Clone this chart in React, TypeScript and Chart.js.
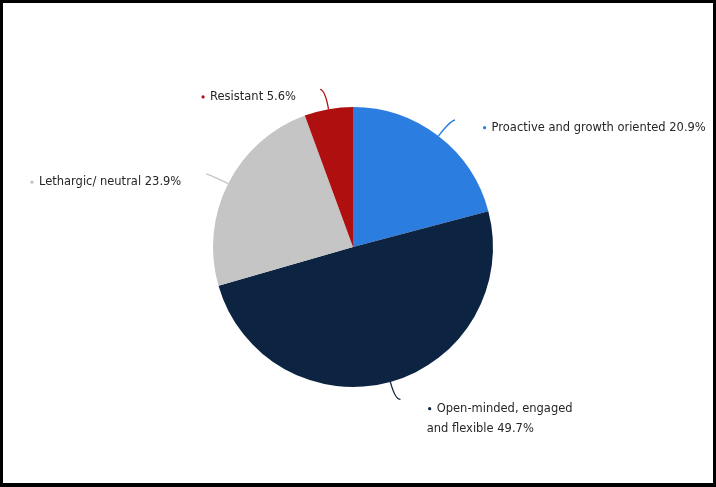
import React, { useEffect, useRef } from 'react';
import { Chart, registerables, ChartConfiguration, Plugin } from 'chart.js';

Chart.register(...registerables);

const categories = ['Proactive and growth oriented', 'Open-minded, engaged and flexible', 'Lethargic/ neutral', 'Resistant'];
const shares = [20.9, 49.7, 23.9, 5.6];
const sliceColors = ['#2b7ddf', '#0c2441', '#c5c5c5', '#b00f10'];
// where Highcharts broke the long labels
const labelLines: Record<string, string[]> = {
  'Open-minded, engaged and flexible': ['Open-minded, engaged', 'and flexible'],
};

const FONT = '11.5px "DejaVu Sans", sans-serif';

const leaderLabels: Plugin<'pie'> = {
  id: 'leaderLabels',
  afterDraw(chart) {
    const ctx = chart.ctx;
    const meta = chart.getDatasetMeta(0);
    ctx.save();
    ctx.font = FONT;
    ctx.textBaseline = 'middle';
    meta.data.forEach((el, i) => {
      const { x, y, startAngle, endAngle, outerRadius } = el.getProps(
        ['x', 'y', 'startAngle', 'endAngle', 'outerRadius'], true) as any;
      const mid = (startAngle + endAngle) / 2;
      const dx = Math.cos(mid);
      const dy = Math.sin(mid);
      const right = dx >= 0;
      const sign = right ? 1 : -1;
      const sx = x + outerRadius * dx;
      const sy = y + outerRadius * dy;
      const cx = x + (outerRadius + 19) * dx;
      const cy = y + (outerRadius + 19) * dy;
      const ex = x + (outerRadius + 20) * dx;
      const ey = y + (outerRadius + 20) * dy;

      // connector
      ctx.strokeStyle = sliceColors[i];
      ctx.lineWidth = 1.3;
      ctx.beginPath();
      ctx.moveTo(sx, sy);
      ctx.quadraticCurveTo(cx, cy, cx + sign * 5, cy - 1);
      ctx.stroke();

      const lines = (labelLines[categories[i]] || [categories[i]]).slice();
      lines[lines.length - 1] = lines[lines.length - 1] + ' ' + shares[i].toFixed(1) + '%';
      const ly = ey + 7.5;

      let textX: number;
      if (right) {
        textX = ex + 41;
      } else {
        textX = ex - 29 - ctx.measureText(lines[0]).width;
      }
      // bullet
      ctx.fillStyle = sliceColors[i];
      ctx.beginPath();
      ctx.arc(textX - 7, ly, 1.6, 0, Math.PI * 2);
      ctx.fill();

      ctx.fillStyle = '#262626';
      ctx.textAlign = 'left';
      lines.forEach((line, k) => {
        const lx = k === 0 ? textX : (right ? ex + 31 : textX);
        ctx.fillText(line, lx, ly + k * 20);
      });
    });
    ctx.restore();
  },
};

const App = () => {
  const chartRef = useRef<HTMLCanvasElement | null>(null);
  const chartInstance = useRef<Chart | null>(null);

  useEffect(() => {
    if (chartInstance.current) {
      chartInstance.current.destroy();
    }
    const ctx = chartRef.current?.getContext('2d');
    if (!ctx) return;

    const config: ChartConfiguration<'pie', number[], string> = {
      type: 'pie',
      data: {
        labels: categories,
        datasets: [
          {
            data: shares,
            backgroundColor: sliceColors,
            borderWidth: 0,
          },
        ],
      },
      options: {
        responsive: false,
        animation: false,
        layout: { padding: { left: 213, right: 223, top: 107, bottom: 100 } },
        plugins: {
          legend: { display: false },
          tooltip: { enabled: false },
        },
      },
      plugins: [leaderLabels],
    };

    chartInstance.current = new Chart(ctx, config);

    return () => {
      if (chartInstance.current) {
        chartInstance.current.destroy();
        chartInstance.current = null;
      }
    };
  }, []);

  return (
    <div style={{ position: 'fixed', left: 0, top: 0, width: 716, height: 487, background: '#000' }}>
      <div style={{ position: 'absolute', left: 3, top: 3, width: 710, height: 480, background: '#fff' }} />
      <canvas
        ref={chartRef}
        width={716}
        height={487}
        style={{ position: 'absolute', left: 0, top: 0, display: 'block' }}
      />
    </div>
  );
};

export default App;
